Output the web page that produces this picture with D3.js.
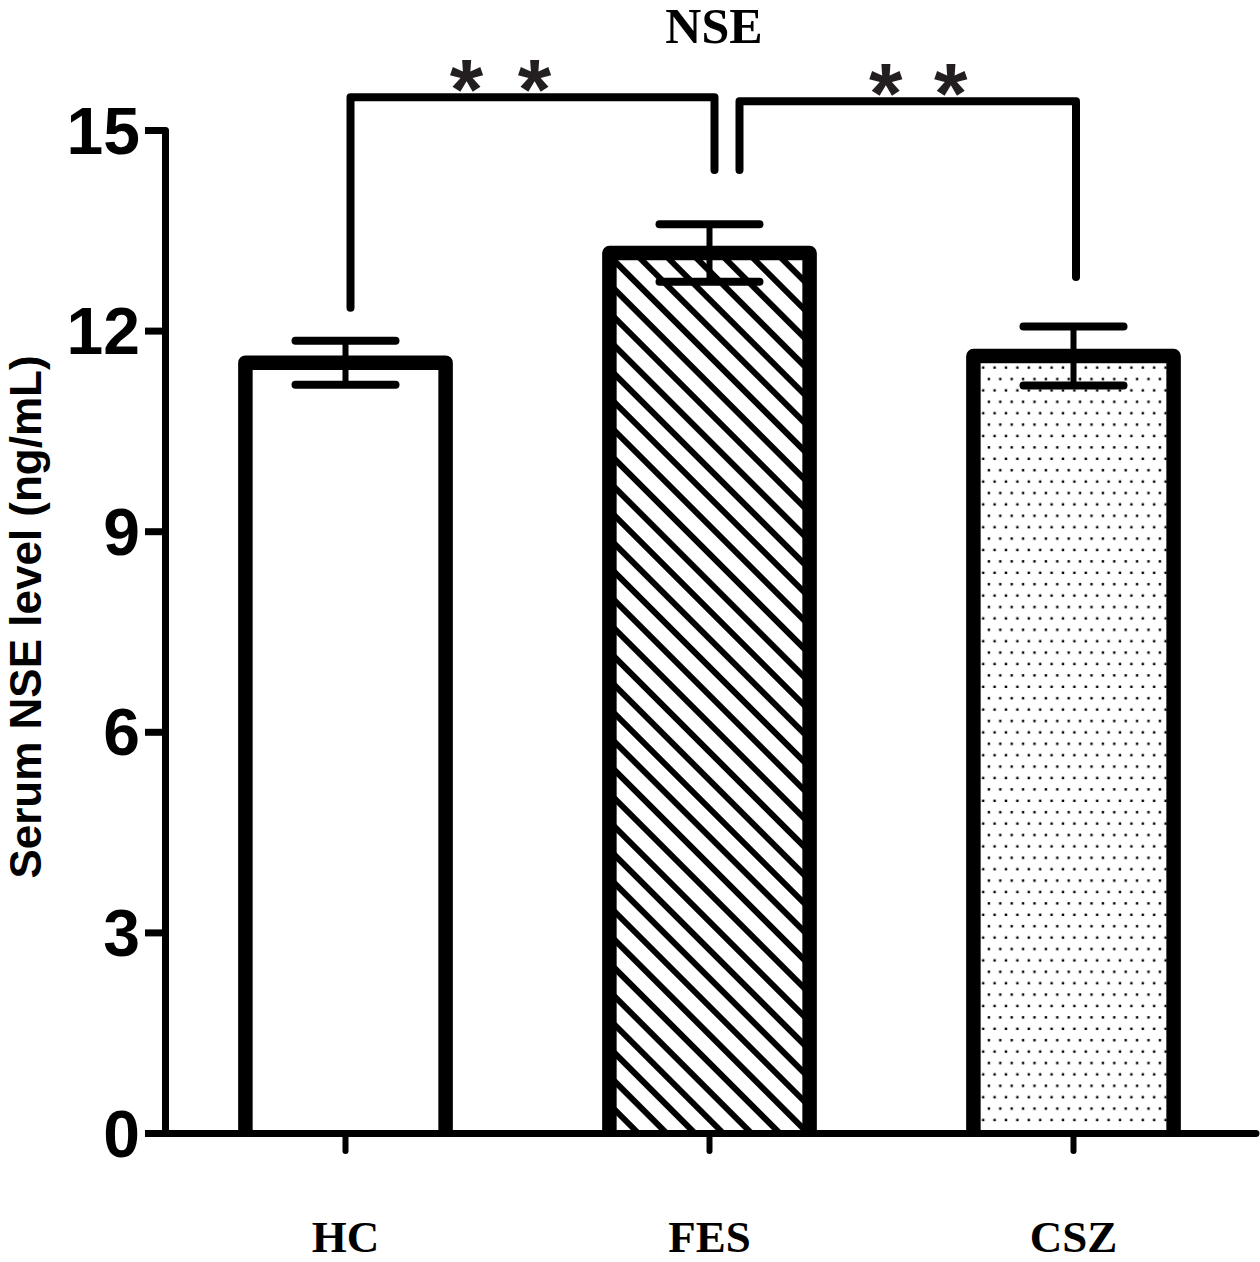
<!DOCTYPE html>
<html>
<head>
<meta charset="utf-8">
<script src="https://cdn.jsdelivr.net/npm/d3@7"></script>
<style>body{margin:0;background:#fff}</style>
</head>
<body>
<div id="chart"></div>
<script>
// data
var groups=['HC','FES','CSZ'];
var means=[11.52,13.16,11.62];
var sems=[0.33,0.43,0.44];
var yTicks=[0,3,6,9,12,15];
var pairs=[['HC','FES'],['FES','CSZ']];
var pairLabels=['**','**'];
var title='NSE';
var yLabel='Serum NSE level (ng/mL)';

var W=1260,H=1262,
	sans='"Liberation Sans",Arial,sans-serif',
	serif='"Liberation Serif","Times New Roman",serif';

var svg=d3.select('#chart').append('svg')
	.attr('width',W).attr('height',H)
	.attr('xmlns','http://www.w3.org/2000/svg');

var x=d3.scaleBand().domain(groups).range([163.5,1255.5]).paddingInner(0.45).paddingOuter(0.225);
var y=d3.scaleLinear().domain([0,15]).range([1133,130]);
var bw=x.bandwidth();

// fill patterns
var defs=svg.append('defs');
var hatch=defs.append('pattern').attr('id','hatch')
	.attr('patternUnits','userSpaceOnUse').attr('width',20).attr('height',20)
	.attr('patternTransform','rotate(45)');
hatch.append('rect').attr('width',20).attr('height',20).attr('fill','#fff');
hatch.append('path').attr('d','M0,10H20').attr('stroke','#000').attr('stroke-width',6);

var dots=defs.append('pattern').attr('id','dots')
	.attr('patternUnits','userSpaceOnUse').attr('width',11.4).attr('height',22.8);
dots.append('rect').attr('width',11.4).attr('height',22.8).attr('fill','#fff');
dots.append('rect').attr('x',1.6).attr('y',1.6).attr('width',2.4).attr('height',2.4).attr('fill','#000');
dots.append('rect').attr('x',7.3).attr('y',13).attr('width',2.4).attr('height',2.4).attr('fill','#000');

var fillOf={HC:'#fff',FES:'url(#hatch)',CSZ:'url(#dots)'};

// bars (open at the bottom, the axis closes them)
var gBars=svg.append('g');
groups.forEach(function(g,i){
	var x0=x(g),top=y(means[i]);
	gBars.append('rect').attr('x',x0).attr('y',top)
		.attr('width',bw).attr('height',y(0)-top)
		.attr('fill',fillOf[g]);
	gBars.append('path')
		.attr('d','M'+x0+','+y(0)+'V'+top+'H'+(x0+bw)+'V'+y(0))
		.attr('fill','none').attr('stroke','#000')
		.attr('stroke-width',14.5).attr('stroke-linejoin','round');
});

// error bars
var gErr=svg.append('g').attr('stroke','#000').attr('stroke-linecap','round');
groups.forEach(function(g,i){
	var cx=x(g)+bw/2,hi=y(means[i]+sems[i]),lo=y(means[i]-sems[i]);
	gErr.append('line').attr('x1',cx).attr('x2',cx).attr('y1',hi).attr('y2',lo).attr('stroke-width',6);
	gErr.append('line').attr('x1',cx-50).attr('x2',cx+50).attr('y1',hi).attr('y2',hi).attr('stroke-width',8);
	gErr.append('line').attr('x1',cx-50).attr('x2',cx+50).attr('y1',lo).attr('y2',lo).attr('stroke-width',8);
});

// y axis
var gY=svg.append('g').attr('transform','translate(165,0)')
	.call(d3.axisLeft(y).tickValues(yTicks).tickSize(20).tickSizeOuter(20).tickPadding(5));
gY.selectAll('line,path').attr('stroke','#000').attr('stroke-width',7)
	.attr('stroke-linejoin','round');
gY.selectAll('text').attr('font-family',sans).attr('font-weight','bold')
	.attr('font-size',66).attr('fill','#000').attr('dy','0.35em');

// x axis
var gX=svg.append('g').attr('transform','translate(0,1133)')
	.call(d3.axisBottom(x).tickSize(18).tickSizeOuter(0));
gX.select('.domain').attr('stroke','#000').attr('stroke-width',7).attr('stroke-linecap','round');
gX.selectAll('.tick line').attr('stroke','#000').attr('stroke-width',6).attr('stroke-linecap','round');
gX.selectAll('text').attr('font-family',serif).attr('font-weight','bold')
	.attr('font-size',45).attr('fill','#000').attr('y',119).attr('dy',0);
svg.selectAll('.domain').attr('fill','none');

// significance brackets
var legBottom=[[12.34,14.4],[14.4,12.8]],	//数值坐标
	bracketTop=[15.49,15.43],
	legShift=[[5,5],[30,2.5]],
	starShift=[[-66,2],[-22,43]];
var gSig=svg.append('g');
pairs.forEach(function(p,i){
	var x1=x(p[0])+bw/2+legShift[i][0],
		x2=x(p[1])+bw/2+legShift[i][1],
		mid=(x1+x2)/2;
	gSig.append('path')
		.attr('d','M'+x1+','+y(legBottom[i][0])+'V'+y(bracketTop[i])+'H'+x2+'V'+y(legBottom[i][1]))
		.attr('fill','none').attr('stroke','#000').attr('stroke-width',8)
		.attr('stroke-linecap','round').attr('stroke-linejoin','round');
	pairLabels[i].split('').forEach(function(c,j){
		gSig.append('text').text(c)
			.attr('x',mid+starShift[i][j]).attr('y',y(bracketTop[i])+22)
			.attr('text-anchor','middle').attr('font-family',sans).attr('font-weight','bold')
			.attr('font-size',86).attr('fill','#231f20');
	});
});

// title & axis label
svg.append('text').text(title).attr('x',714).attr('y',43).attr('text-anchor','middle')
	.attr('font-family',serif).attr('font-weight','bold').attr('font-size',50);
svg.append('text').text(yLabel).attr('transform','translate(41,617) rotate(-90)')
	.attr('text-anchor','middle').attr('font-family',sans).attr('font-weight','bold')
	.attr('font-size',44);
</script>
</body>
</html>
